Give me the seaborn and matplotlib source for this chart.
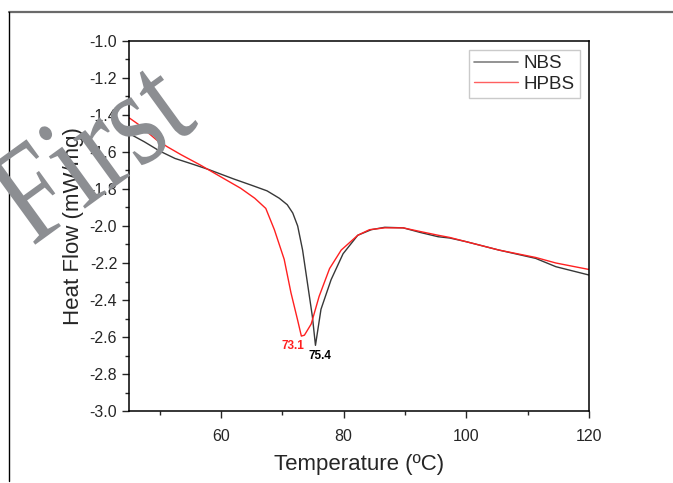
import numpy as np
import pandas as pd
import matplotlib
matplotlib.use("Agg")
import matplotlib.pyplot as plt
from matplotlib.lines import Line2D
from matplotlib.ticker import MultipleLocator
from matplotlib.textpath import TextPath
from matplotlib.patches import PathPatch
from matplotlib.font_manager import FontProperties
from matplotlib.transforms import Affine2D
import seaborn as sns

# DSC curves
nbs_temp = [45, 47.5, 50, 52.5, 55.3, 58, 62, 65, 67.5, 69.5, 70.8, 71.7, 72.5,
            73.3, 74.1, 74.9, 75.4, 76.3, 77.95, 79.9, 82.3, 84.5, 86.7, 89.7,
            92.5, 95.4, 97.3, 100, 105.3, 111.3, 114.6, 120]
nbs_flow = [-1.50, -1.545, -1.595, -1.635, -1.665, -1.695, -1.745, -1.78, -1.81,
            -1.85, -1.885, -1.93, -2.00, -2.13, -2.31, -2.49, -2.645, -2.45,
            -2.29, -2.15, -2.05, -2.02, -2.007, -2.01, -2.035, -2.058, -2.065,
            -2.085, -2.13, -2.175, -2.22, -2.265]

hpbs_temp = [45, 46.5, 47.9, 49.5, 51.2, 53.5, 56.6, 60, 63.2, 65.5, 67.3, 68.7,
             69.5, 70.3, 71.4, 72.5, 73.1, 73.6, 74.7, 76.0, 77.7, 79.6, 82.3,
             84.2, 86.7, 89.7, 92.5, 95.4, 97.3, 100, 105.3, 111.3, 114.6, 120]
hpbs_flow = [-1.415, -1.45, -1.49, -1.535, -1.571, -1.615, -1.67, -1.735, -1.796,
             -1.85, -1.905, -2.02, -2.10, -2.18, -2.36, -2.51, -2.595, -2.59,
             -2.53, -2.38, -2.23, -2.13, -2.05, -2.02, -2.01, -2.01, -2.03,
             -2.05, -2.062, -2.085, -2.13, -2.17, -2.20, -2.235]

peak_labels = ["73.1", "75.4"]
peak_temp = [73.1, 75.4]
peak_flow = [-2.595, -2.645]

df = pd.concat([
    pd.DataFrame({"Temperature": nbs_temp, "Heat Flow": nbs_flow, "Sample": "NBS"}),
    pd.DataFrame({"Temperature": hpbs_temp, "Heat Flow": hpbs_flow, "Sample": "HPBS"}),
])
colors = {"NBS": "#383838", "HPBS": "#ff2020"}

sns.set_style("ticks")
plt.rcParams["font.family"] = ["Liberation Sans", "DejaVu Sans"]

fig = plt.figure(figsize=(6.73, 4.83), dpi=100)
ax = fig.add_axes([0.1917, 0.149, 0.6835, 0.7662])

sns.lineplot(data=df, x="Temperature", y="Heat Flow", hue="Sample",
             palette=colors, linewidth=1.0, sort=False, legend=False, ax=ax)

ax.set_xlim(45, 120)
ax.set_ylim(-3.0, -1.0)
ax.xaxis.set_major_locator(MultipleLocator(20))
ax.xaxis.set_minor_locator(MultipleLocator(10))
ax.yaxis.set_major_locator(MultipleLocator(0.2))
ax.yaxis.set_minor_locator(MultipleLocator(0.1))
ax.yaxis.set_major_formatter(matplotlib.ticker.FormatStrFormatter("%.1f"))
ax.tick_params(which="major", length=5, width=1, direction="out", labelsize=11.5)
ax.tick_params(which="minor", length=3, width=1, direction="out")
ax.tick_params(axis="x", pad=8)
for s in ax.spines.values():
    s.set_linewidth(1.1)
    s.set_color("black")
    s.set_visible(True)

ax.set_xlabel("Temperature (ºC)", fontsize=16, labelpad=7)
ax.set_ylabel("Heat Flow (mW/mg)", fontsize=16, labelpad=4)

ax.annotate(peak_labels[0], (peak_temp[0], peak_flow[0]), xytext=(-6, -7),
            textcoords="offset points", ha="center", va="center",
            color="#ff2020", fontsize=8.5, fontweight="bold")
ax.annotate(peak_labels[1], (peak_temp[1], peak_flow[1]), xytext=(3, -8),
            textcoords="offset points", ha="center", va="center",
            color="black", fontsize=8.5, fontweight="bold")

handles = [Line2D([], [], color="#808080", lw=1.2), Line2D([], [], color="#ff6060", lw=1.0)]
leg = ax.legend(handles, ["NBS", "HPBS"], loc="upper right", fontsize=13.5,
                frameon=True, fancybox=False, edgecolor="#bdbdbd",
                handlelength=2.35, handletextpad=0.3, labelspacing=0.2,
                borderpad=0.25, borderaxespad=0.5)
leg.get_frame().set_linewidth(1.0)

# page border fragments
fig.add_artist(Line2D([0.0134, 1.0], [0.975, 0.975], transform=fig.transFigure,
                      color="#6a6a6a", lw=1.6))
fig.add_artist(Line2D([0.0134, 0.0134], [0.975, 0.004], transform=fig.transFigure,
                      color="black", lw=1.0))

# watermark (slightly condensed serif, rotated), placed in pixel coords
wm_path = TextPath((0, 0), "First", size=138,
                   prop=FontProperties(family="Liberation Serif"))
wm_tr = Affine2D().scale(0.82, 1.0).rotate_deg(36).translate(32, 483 - 247)
fig.add_artist(PathPatch(wm_path, transform=wm_tr, facecolor="#8c8e92",
                         edgecolor="none", zorder=10))

fig.savefig("out.png", dpi=100)
